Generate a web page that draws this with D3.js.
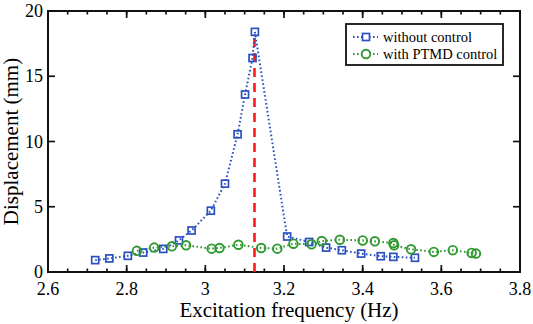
<!DOCTYPE html>
<html>
<head>
<meta charset="utf-8">
<script src="https://cdn.jsdelivr.net/npm/d3@7"></script>
</head>
<body style="margin:0">
<script>
// data
var freqNo = [2.72, 2.756, 2.803, 2.842, 2.893, 2.933, 2.965, 3.014, 3.05, 3.082, 3.101, 3.12, 3.126, 3.208, 3.264, 3.307, 3.347, 3.396, 3.446, 3.478, 3.533];
var dispNo = [0.91, 1.04, 1.24, 1.49, 1.77, 2.42, 3.18, 4.7, 6.77, 10.55, 13.6, 16.4, 18.4, 2.72, 2.3, 1.87, 1.67, 1.41, 1.21, 1.16, 1.09];

var freqPtmd = [2.826, 2.87, 2.915, 2.951, 3.016, 3.036, 3.084, 3.142, 3.183, 3.224, 3.27, 3.296, 3.342, 3.4, 3.431, 3.478, 3.48, 3.523, 3.581, 3.629, 3.677, 3.688];
var dispPtmd = [1.62, 1.87, 1.97, 2.05, 1.79, 1.84, 2.09, 1.84, 1.79, 2.17, 2.12, 2.37, 2.47, 2.42, 2.35, 2.22, 2.05, 1.74, 1.54, 1.67, 1.46, 1.41];

var resonance = 3.125;
var resonancePeak = 18.4;

var xTicks = [2.6, 2.8, 3, 3.2, 3.4, 3.6, 3.8];
var yTicks = [0, 5, 10, 15, 20];
var seriesNames = ["without control", "with PTMD control"];

var blue = "#2b50c0", green = "#2f9a2f", red = "#ff1a1a";
var fontFam = "Liberation Serif";

var W = 533, H = 324;
var margin = { top: 11, right: 13, bottom: 52, left: 48 };
var width = W - margin.left - margin.right,
    height = H - margin.top - margin.bottom;

var x = d3.scaleLinear().domain([2.6, 3.8]).range([0, width]);
var y = d3.scaleLinear().domain([0, 20]).range([height, 0]);

var root = d3.select("body").append("svg")
    .attr("width", W)
    .attr("height", H)
    .attr("font-family", fontFam);

var svg = root.append("g")
    .attr("transform", "translate(" + margin.left + "," + margin.top + ")");

// minor x ticks every 0.05
var minorX = d3.range(0, 25).map(function (i) { return 2.6 + i * 0.05; });

function drawTicks(g, vals, len, isX, flip) {
    g.selectAll(null)
        .data(vals)
        .enter().append("line")
        .attr("stroke", "#111")
        .attr("stroke-width", 1.7)
        .attr("x1", function (d) { return isX ? x(d) : (flip ? width : 0); })
        .attr("x2", function (d) { return isX ? x(d) : (flip ? width - len : len); })
        .attr("y1", function (d) { return isX ? (flip ? 0 : height) : y(d); })
        .attr("y2", function (d) { return isX ? (flip ? len : height - len) : y(d); });
}

drawTicks(svg, minorX, 3.5, true, false);
drawTicks(svg, minorX, 3.5, true, true);
drawTicks(svg, xTicks, 7, true, false);
drawTicks(svg, xTicks, 7, true, true);
drawTicks(svg, yTicks, 7, false, false);
drawTicks(svg, yTicks, 7, false, true);

svg.append("rect")
    .attr("width", width)
    .attr("height", height)
    .attr("fill", "none")
    .attr("stroke", "#111")
    .attr("stroke-width", 2);

svg.selectAll(null)
    .data(xTicks)
    .enter().append("text")
    .attr("x", function (d) { return x(d); })
    .attr("y", height + 23)
    .attr("text-anchor", "middle")
    .attr("font-size", 18)
    .attr("font-family", fontFam)
    .text(function (d) { return d3.format("")(d); });

svg.selectAll(null)
    .data(yTicks)
    .enter().append("text")
    .attr("x", -5)
    .attr("y", function (d) { return y(d) + 6; })
    .attr("text-anchor", "end")
    .attr("font-size", 18)
    .attr("font-family", fontFam)
    .text(function (d) { return d; });

svg.append("text")
    .attr("x", width / 2 + 5)
    .attr("y", height + 45)
    .attr("text-anchor", "middle")
    .attr("font-size", 21)
    .attr("font-family", fontFam)
    .text("Excitation frequency (Hz)");

svg.append("text")
    .attr("transform", "translate(" + (18 - margin.left) + "," + (height / 2) + ")rotate(-90)")
    .attr("text-anchor", "middle")
    .attr("font-size", 21)
    .attr("font-family", fontFam)
    .text("Displacement (mm)");

var line = d3.line()
    .x(function (d) { return x(d[0]); })
    .y(function (d) { return y(d[1]); });

var noData = d3.zip(freqNo, dispNo);
var ptmdData = d3.zip(freqPtmd, dispPtmd);

// resonance marker
svg.append("line")
    .attr("x1", x(resonance)).attr("x2", x(resonance))
    .attr("y1", y(0)).attr("y2", y(resonancePeak))
    .attr("stroke", red)
    .attr("stroke-width", 2.6)
    .attr("stroke-dasharray", "9,6");

svg.append("path")
    .datum(noData)
    .attr("d", line)
    .attr("fill", "none")
    .attr("stroke", blue)
    .attr("stroke-width", 2)
    .attr("stroke-dasharray", "1.6,2.4");

svg.append("path")
    .datum(ptmdData)
    .attr("d", line)
    .attr("fill", "none")
    .attr("stroke", green)
    .attr("stroke-width", 2)
    .attr("stroke-dasharray", "1.6,2.4");

svg.selectAll(".sq")
    .data(noData)
    .enter().append("rect")
    .attr("class", "sq")
    .attr("x", function (d) { return x(d[0]) - 3.5; })
    .attr("y", function (d) { return y(d[1]) - 3.5; })
    .attr("width", 7)
    .attr("height", 7)
    .attr("fill", "none")
    .attr("stroke", blue)
    .attr("stroke-width", 1.7);

svg.selectAll(".ci")
    .data(ptmdData)
    .enter().append("circle")
    .attr("class", "ci")
    .attr("cx", function (d) { return x(d[0]); })
    .attr("cy", function (d) { return y(d[1]); })
    .attr("r", 4.3)
    .attr("fill", "none")
    .attr("stroke", green)
    .attr("stroke-width", 1.9);

// legend
var lg = svg.append("g").attr("transform", "translate(" + (346 - margin.left) + "," + (24 - margin.top) + ")");
lg.append("rect")
    .attr("width", 157)
    .attr("height", 41)
    .attr("fill", "#fff")
    .attr("stroke", "#111")
    .attr("stroke-width", 1.8);

seriesNames.forEach(function (name, i) {
    var cy = 13 + i * 17;
    var col = i === 0 ? blue : green;
    lg.append("line")
        .attr("x1", 7).attr("x2", 32)
        .attr("y1", cy).attr("y2", cy)
        .attr("stroke", col)
        .attr("stroke-width", 2)
        .attr("stroke-dasharray", "1.6,2.4");
    if (i === 0) {
        lg.append("rect")
            .attr("x", 16.5).attr("y", cy - 3.5)
            .attr("width", 7).attr("height", 7)
            .attr("fill", "#fff")
            .attr("stroke", col).attr("stroke-width", 1.7);
    } else {
        lg.append("circle")
            .attr("cx", 20).attr("cy", cy).attr("r", 4.3)
            .attr("fill", "#fff")
            .attr("stroke", col).attr("stroke-width", 1.9);
    }
    lg.append("text")
        .attr("x", 37)
        .attr("y", cy + 5)
        .attr("font-size", 14.5)
        .attr("font-family", fontFam)
        .text(name);
});
</script>
</body>
</html>
